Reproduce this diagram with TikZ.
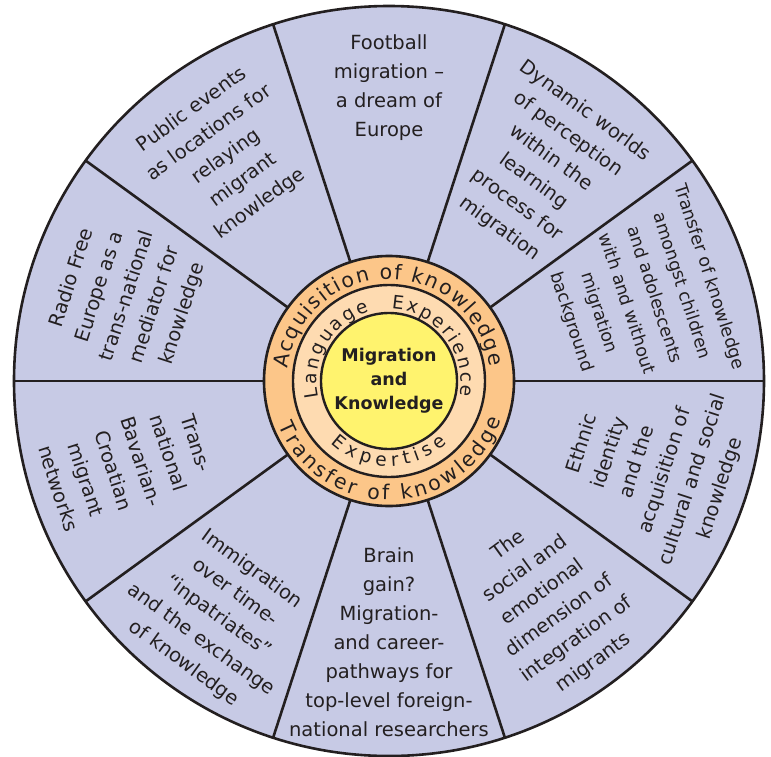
\documentclass[tikz,border=0pt]{standalone}
\usepackage{fontspec}
\setmainfont{DejaVu Sans}
\usepackage{tikz}
\usetikzlibrary{decorations.text}
\definecolor{wheelfill}{RGB}{199,202,229}
\definecolor{outerring}{RGB}{252,198,137}
\definecolor{innerring}{RGB}{254,219,177}
\definecolor{corefill}{RGB}{255,243,110}
\definecolor{ink}{RGB}{35,31,32}

\begin{document}
\begin{tikzpicture}[x=1pt,y=1pt,
	segtext/.style={text=ink,align=center,font=\fontsize{19.5}{29}\selectfont},
	smalltext/.style={text=ink,align=center,font=\fontsize{17.5}{29}\selectfont},
	coretext/.style={text=ink,align=center,font=\bfseries\fontsize{17.5}{24}\selectfont},
	ringtext/.style={decorate,decoration={text along path,text color=ink,text align={fit to path},text={#1}}}]
			\tikzstyle{every node}+=[inner sep=0pt]
			\useasboundingbox (-389,-375) rectangle (382,381);
			\draw [ink,line width=2.6pt,fill=wheelfill] (0,0) circle (375);
			\draw [ink,line width=2.6pt] (0:125) -- (0:375);
			\draw [ink,line width=2.6pt] (36:125) -- (36:375);
			\draw [ink,line width=2.6pt] (72:125) -- (72:375);
			\draw [ink,line width=2.6pt] (108:125) -- (108:375);
			\draw [ink,line width=2.6pt] (144:125) -- (144:375);
			\draw [ink,line width=2.6pt] (180:125) -- (180:375);
			\draw [ink,line width=2.6pt] (216:125) -- (216:375);
			\draw [ink,line width=2.6pt] (252:125) -- (252:375);
			\draw [ink,line width=2.6pt] (288:125) -- (288:375);
			\draw [ink,line width=2.6pt] (324:125) -- (324:375);
			\draw [ink,line width=2.6pt,fill=outerring] (0,0) circle (125);
			\draw [ink,line width=2.4pt,fill=innerring] (0,0) circle (96);
			\draw [ink,line width=2.4pt,fill=corefill] (0,0) circle (68);
			\node (core) at (0,0) [coretext] {Migration\\and\\Knowledge};
			\path [ringtext={|\fontsize{20.5}{20.5}\selectfont|Acquisition of knowledge}] (173:102) arc (173:8:102);
			\path [ringtext={|\fontsize{20.5}{20.5}\selectfont|Transfer of knowledge}] (202:119) arc (202:341:119);
			\path [ringtext={|\fontsize{18.5}{18.5}\selectfont|Language}] (193:72) arc (193:106:72);
			\path [ringtext={|\fontsize{18.5}{18.5}\selectfont|Experience}] (88:72) arc (88:-12:72);
			\path [ringtext={|\fontsize{18.5}{18.5}\selectfont|Expertise}] (227:85) arc (227:313:85);
			\node (football) at (90:293) [segtext] {Football\\migration –\\a dream of\\Europe};
			\node (dynamic) at (54:261) [segtext,rotate=-36] {Dynamic worlds\\of perception\\within the\\learning\\process for\\migration};
			\node (children) at (18:264) [smalltext,rotate=-72] {Transfer of knowledge\\amongst children\\and adolescents\\with and without\\migration\\background};
			\node (ethnic) at (-18:276) [segtext,rotate=72] {Ethnic\\identity\\and the\\acquisition of\\cultural and social\\knowledge};
			\node (social) at (-54:276) [segtext,rotate=36] {The\\social and\\emotional\\dimension of\\integration of\\migrants};
			\node (brain) at (-90:261) [segtext] {Brain\\gain?\\Migration-\\and career-\\pathways for\\top-level foreign-\\national researchers};
			\node (inpatriates) at (-126:291) [segtext,rotate=-36] {Immigration\\over time-\\“inpatriates”\\and the exchange\\of knowledge};
			\node (croatian) at (-162:275) [segtext,rotate=-72] {Trans-\\national\\Bavarian-\\Croatian\\migrant\\networks};
			\node (radio) at (162:275) [segtext,rotate=72] {Radio Free\\Europe as a\\trans-national\\mediator for\\knowledge};
			\node (events) at (126:277) [segtext,rotate=36] {Public events\\as locations for\\relaying\\migrant\\knowledge};
\end{tikzpicture}
\end{document}
